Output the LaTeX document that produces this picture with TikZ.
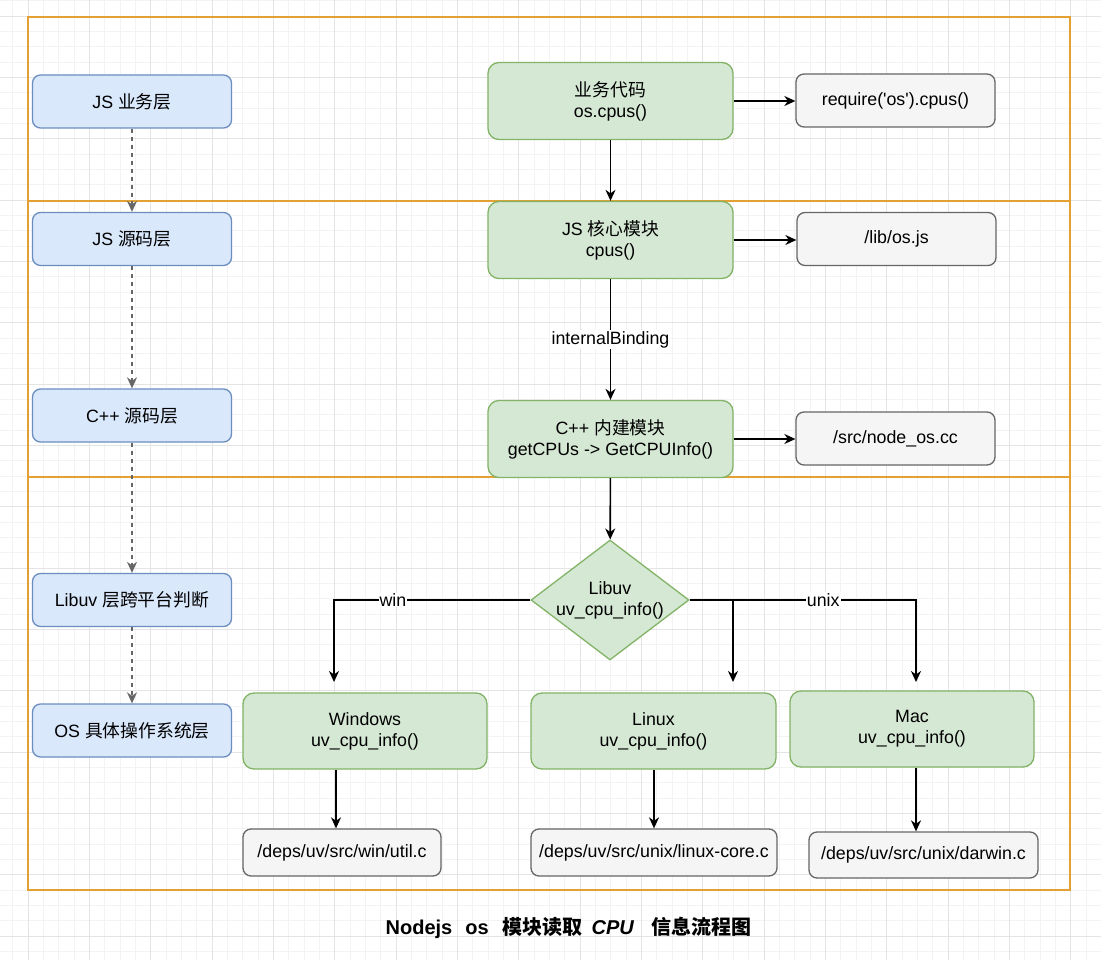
\documentclass[tikz,border=0pt]{standalone}
\usepackage{fontspec}
\setmainfont{Liberation Sans}
\newfontfamily\cjk{Noto Sans CJK SC}
\usetikzlibrary{shapes.geometric,arrows.meta}
\definecolor{bluef}{HTML}{DAE8FC}
\definecolor{blued}{HTML}{6C8EBF}
\definecolor{greenf}{HTML}{D5E8D4}
\definecolor{greend}{HTML}{82B366}
\definecolor{grayf}{HTML}{F5F5F5}
\definecolor{grayd}{HTML}{666666}
\definecolor{orangeline}{HTML}{E3A133}
\definecolor{gridmin}{HTML}{F3F3F3}
\definecolor{gridmaj}{HTML}{E4E4E4}
\newcommand\zh[1]{{\cjk #1}}
\begin{document}
\begin{tikzpicture}[x=1pt,y=-1pt,
 base/.style={draw, line width=1.3pt, align=center, inner sep=0pt, font=\fontsize{17.8}{21}\selectfont},
 layerbox/.style={base, fill=bluef, draw=blued, rounded corners=8pt, minimum width=199pt, minimum height=53pt},
 modbox/.style={base, fill=greenf, draw=greend, rounded corners=11pt, minimum width=245pt, minimum height=77pt},
 filebox/.style={base, fill=grayf, draw=grayd, rounded corners=8pt, minimum width=199pt, minimum height=53pt},
 decbox/.style={base, diamond, fill=greenf, draw=greend, minimum width=158pt, minimum height=120pt, aspect=1.3167},
 arr/.style={-{Stealth[length=11pt,width=10pt,inset=3.5pt]}, line width=1.6pt, black},
 darr/.style={-{Stealth[length=11pt,width=10pt,inset=3.5pt]}, line width=1.4pt, grayd, dash pattern=on 4pt off 4pt},
 lbl/.style={fill=white, inner sep=1pt, font=\fontsize{17.8}{21}\selectfont},
]
\useasboundingbox (0,0) rectangle (1101,960);
\fill[white] (0,0) rectangle (1101,960);
% grid
\foreach \i in {-2,...,72} \draw[gridmin, line width=0.8pt] (28+\i*15.333,0) -- (28+\i*15.333,960);
\foreach \i in {-2,...,63} \draw[gridmin, line width=0.8pt] (0,16+\i*15.333) -- (1101,16+\i*15.333);
\foreach \i in {-1,...,18} \draw[gridmaj, line width=0.9pt] (28+\i*61.333,0) -- (28+\i*61.333,960);
\foreach \i in {-1,...,16} \draw[gridmaj, line width=0.9pt] (0,16+\i*61.333) -- (1101,16+\i*61.333);
% frame
\draw[orangeline, line width=1.6pt] (28,17) rectangle (1070,890);
\draw[orangeline, line width=1.6pt] (28,201) -- (1070,201);
\draw[orangeline, line width=1.6pt] (28,477) -- (1070,477);
% layer boxes
\node[layerbox] (l1) at (132,101.5) {JS \zh{业务层}};
\node[layerbox] (l2) at (132,239) {JS \zh{源码层}};
\node[layerbox] (l3) at (132,415.5) {C++ \zh{源码层}};
\node[layerbox] (l4) at (132,600) {Libuv \zh{层跨平台判断}};
\node[layerbox] (l5) at (132,730.5) {OS \zh{具体操作系统层}};
% modules
\node[modbox] (m1) at (610.5,101) {\zh{业务代码}\\os.cpus()};
\node[modbox] (m2) at (610.5,240) {JS \zh{核心模块}\\cpus()};
\node[modbox] (m3) at (610.5,439) {C++ \zh{内建模块}\\getCPUs -> GetCPUInfo()};
% files
\node[filebox] (f1) at (895.5,100.5) {require(\textquotesingle os\textquotesingle).cpus()};
\node[filebox] (f2) at (896.5,239) {/lib/os.js};
\node[filebox] (f3) at (895.5,438.5) {/src/node\_os.cc};
% decision
\node[decbox] (d) at (610,600) {Libuv\\uv\_cpu\_info()};
% OS boxes
\node[modbox, minimum width=244pt, minimum height=76pt] (w) at (365,731) {Windows\\uv\_cpu\_info()};
\node[modbox, minimum height=76pt] (lx) at (653.5,731) {Linux\\uv\_cpu\_info()};
\node[modbox, minimum width=244pt, minimum height=76pt] (mc) at (912,729) {Mac\\uv\_cpu\_info()};
\node[filebox, minimum width=198pt, minimum height=47pt] (u1) at (342,852.5) {/deps/uv/src/win/util.c};
\node[filebox, minimum width=246pt, minimum height=47pt] (u2) at (654,852.5) {/deps/uv/src/unix/linux-core.c};
\node[filebox, minimum width=229pt, minimum height=46pt] (u3) at (923.5,855) {/deps/uv/src/unix/darwin.c};
% title
\node[font=\fontsize{20}{24}\selectfont\bfseries, inner sep=0pt] (title) at (568.5,928) {Nodejs\hspace{13pt}os\hspace{14pt}\zh{模块读取}\hspace{9pt}\textit{CPU}\hspace{17pt}\zh{信息流程图}};
% dashed layer arrows
\draw[darr] (l1.south) -- (l2.north);
\draw[darr] (l2.south) -- (l3.north);
\draw[darr] (l3.south) -- (l4.north);
\draw[darr] (l4.south) -- (l5.north);
% module arrows
\draw[arr] (m1.east) -- (m1.east -| f1.west);
\draw[arr] (m2.east) -- (m2.east -| f2.west);
\draw[arr] (m3.east) -- (m3.east -| f3.west);
\draw[arr] (m1) -- (m2);
\draw[arr] (m2) -- node[lbl]{internalBinding} (m3);
\draw[arr] (m3) -- (d);
% branches
\coordinate (wt) at (334,682);
\coordinate (lt) at (733,682);
\coordinate (mt) at (916,682);
\draw[arr] (d.west) -| node[lbl,pos=0.35]{win} (wt);
\draw[arr] (d.east) -| node[lbl,pos=0.295]{unix} (mt);
\draw[arr] (d.east -| lt) -- (lt);
\draw[arr] ([xshift=-29pt]w.south) -- ([xshift=-29pt]w.south |- u1.north);
\draw[arr] ([xshift=0.5pt]lx.south) -- ([xshift=0.5pt]lx.south |- u2.north);
\draw[arr] ([xshift=4pt]mc.south) -- ([xshift=4pt]mc.south |- u3.north);
\end{tikzpicture}
\end{document}
